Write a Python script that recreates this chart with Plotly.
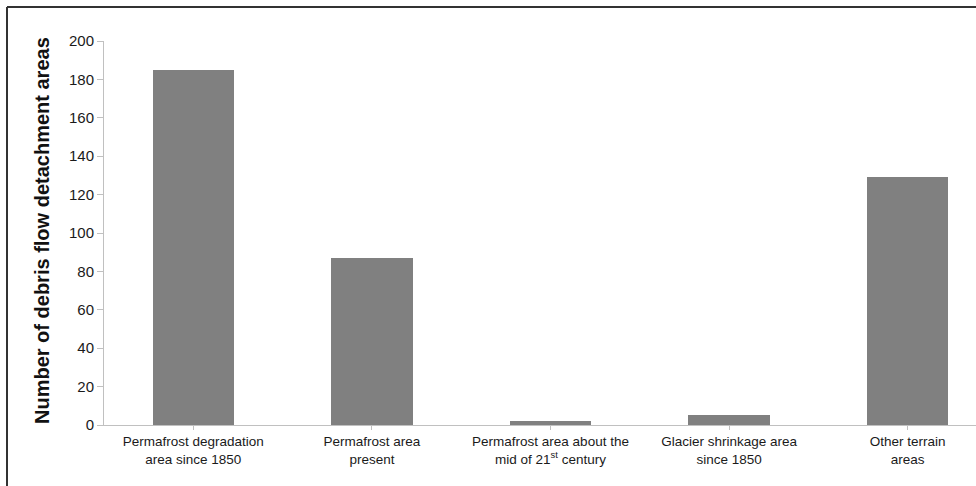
import plotly.graph_objects as go

categories = [
    "Permafrost degradation<br>area since 1850",
    "Permafrost area<br>present",
    "Permafrost area about the<br>mid of 21<sup>st</sup> century",
    "Glacier shrinkage area<br>since 1850",
    "Other terrain<br>areas",
]
values = [185, 87, 2, 5, 129]
y_ticks = [0, 20, 40, 60, 80, 100, 120, 140, 160, 180, 200]
y_title = "Number of debris flow detachment areas"

W, H = 976, 486
ML, MT, MB, MR = 104, 41, 61, 0
pw = W - ML - MR
ph = H - MT - MB

def px_to_paper_x(px):
    return (px - ML) / pw

def px_to_paper_y(py):
    return (H - MB - py) / ph

fig = go.Figure(
    go.Bar(
        x=list(range(len(categories))),
        y=values,
        width=0.455,
        marker=dict(color="#808080", line=dict(width=0)),
    )
)

fig.update_layout(
    width=W,
    height=H,
    margin=dict(l=ML, r=MR, t=MT, b=MB),
    paper_bgcolor="white",
    plot_bgcolor="white",
    showlegend=False,
    font=dict(family="Liberation Sans, Arial, sans-serif", color="#1a1a1a"),
    bargap=0,
)

fig.update_xaxes(
    range=[-0.5, -0.5 + pw / 178.6],
    tickmode="array",
    tickvals=list(range(len(categories))),
    ticktext=categories,
    tickson="boundaries",
    ticks="outside",
    ticklen=4,
    tickcolor="#c0c0c0",
    showline=True,
    linecolor="#c0c0c0",
    linewidth=1,
    showgrid=False,
    zeroline=False,
    tickfont=dict(size=13.5, color="#1a1a1a"),
)

fig.update_yaxes(
    range=[0, 200],
    tickmode="array",
    tickvals=y_ticks,
    ticks="outside",
    ticklen=6,
    tickcolor="#c0c0c0",
    showline=True,
    linecolor="#c0c0c0",
    linewidth=1,
    showgrid=False,
    zeroline=False,
    tickfont=dict(size=15, color="#1a1a1a"),
)

fig.add_annotation(
    x=px_to_paper_x(42),
    y=px_to_paper_y(231),
    xref="paper",
    yref="paper",
    text="<b>" + y_title + "</b>",
    textangle=-90,
    showarrow=False,
    font=dict(size=20, color="#111111"),
    xanchor="center",
    yanchor="middle",
)

# frame (left and top edges visible in the cropped original)
fig.add_shape(type="line", xref="paper", yref="paper",
              x0=px_to_paper_x(7), x1=px_to_paper_x(W + 5),
              y0=px_to_paper_y(7), y1=px_to_paper_y(7),
              line=dict(color="#333333", width=2))
fig.add_shape(type="line", xref="paper", yref="paper",
              x0=px_to_paper_x(7), x1=px_to_paper_x(7),
              y0=px_to_paper_y(7), y1=px_to_paper_y(H + 5),
              line=dict(color="#333333", width=2))

fig.write_html(
    "out.html",
    config={"displayModeBar": False},
    post_script="document.body.style.margin='0';document.body.style.overflow='hidden';",
)
